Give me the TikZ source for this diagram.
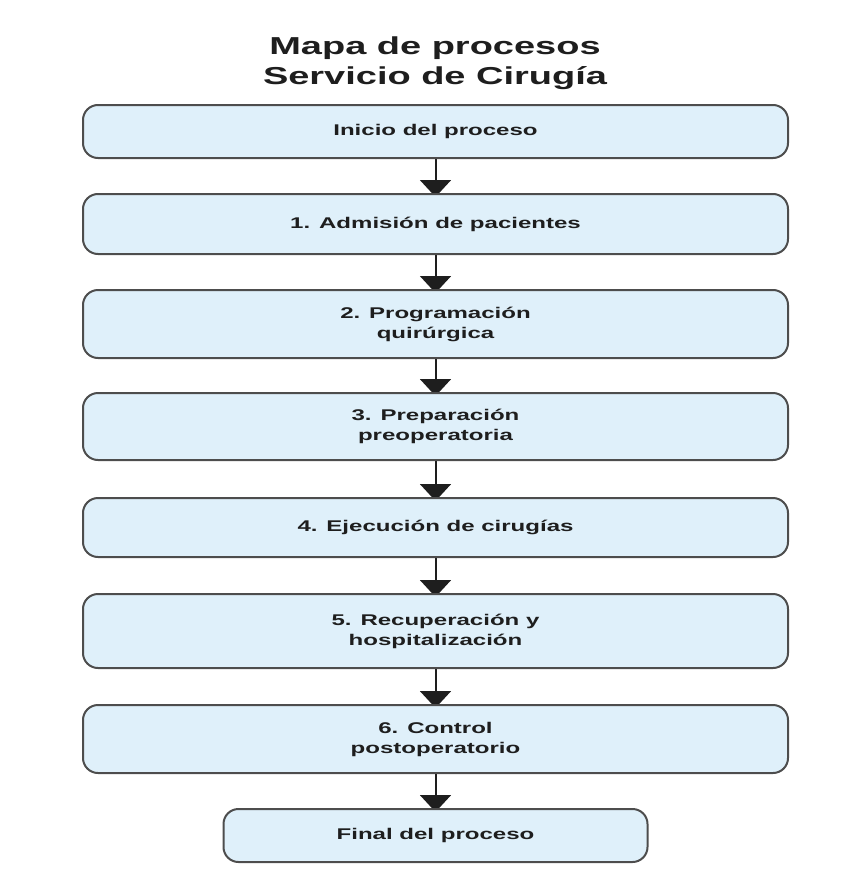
\documentclass[tikz,border=0pt]{standalone}
\usepackage{fontspec}
\setmainfont{Liberation Sans}[FakeStretch=1.55]
\usetikzlibrary{arrows.meta,backgrounds}
\definecolor{boxfill}{HTML}{DFF0FA}
\definecolor{boxline}{HTML}{4D4D4D}
\definecolor{txt}{HTML}{1E1E1E}
\tikzset{
  procbox/.style={draw=boxline, line width=2pt, fill=boxfill, rounded corners=15pt,
    minimum width=705pt, inner sep=0pt, align=center, text=txt,
    font=\fontsize{15.5pt}{20pt}\selectfont\bfseries},
  flowarrow/.style={draw=txt, line width=2pt,
    -{Triangle[width=31pt,length=17pt]}, shorten >=-4pt},
  titletext/.style={align=center, text=txt, inner sep=0pt,
    font=\fontsize{24.5pt}{30pt}\selectfont\bfseries}
}
\begin{document}
\begin{tikzpicture}[x=1pt,y=-1pt]
\useasboundingbox (0,0) rectangle (855,875);
\node[titletext] (title) at (435,63) {Mapa de procesos\\Servicio de Cirugía};
\node[procbox, minimum height=53pt] (b0) at (435.5,131.5) {Inicio del proceso};
\node[procbox, minimum height=60pt] (b1) at (435.5,224) {1. Admisión de pacientes};
\node[procbox, minimum height=68pt] (b2) at (435.5,324) {2. Programación\\quirúrgica};
\node[procbox, minimum height=67pt] (b3) at (435.5,426.5) {3. Preparación\\preoperatoria};
\node[procbox, minimum height=59pt] (b4) at (435.5,527.5) {4. Ejecución de cirugías};
\node[procbox, minimum height=74pt] (b5) at (435.5,631) {5. Recuperación y\\hospitalización};
\node[procbox, minimum height=68pt] (b6) at (435.5,739) {6. Control\\postoperatorio};
\node[procbox, minimum height=53pt, minimum width=424pt] (bf) at (435.5,835.5) {Final del proceso};
\begin{scope}[on background layer]
\draw[flowarrow] (b0.south) -- (b1.north);
\draw[flowarrow] (b1.south) -- (b2.north);
\draw[flowarrow] (b2.south) -- (b3.north);
\draw[flowarrow] (b3.south) -- (b4.north);
\draw[flowarrow] (b4.south) -- (b5.north);
\draw[flowarrow] (b5.south) -- (b6.north);
\draw[flowarrow] (b6.south) -- (bf.north);
\end{scope}
\end{tikzpicture}
\end{document}
